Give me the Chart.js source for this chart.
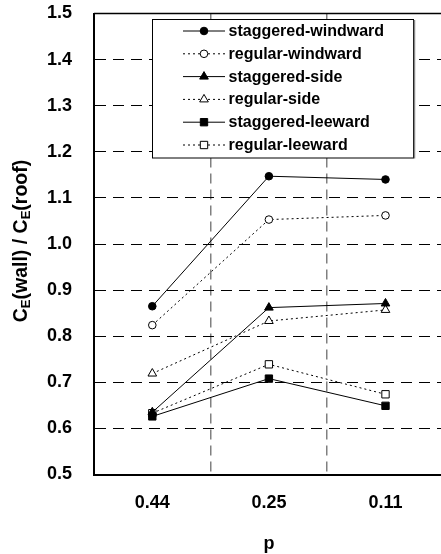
<!DOCTYPE html>
<html><head><meta charset="utf-8">
<script src="https://cdn.jsdelivr.net/npm/chart.js@4/dist/chart.umd.min.js"></script>
<style>html,body{margin:0;padding:0;overflow:hidden;background:#fff}#wrap{width:450px;height:554px}</style>
</head><body><div id="wrap"><canvas id="c" width="450" height="554"></canvas></div>
<script>
// ---- data ----
const categories = ['0.44', '0.25', '0.11'];
const seriesNames = ['staggered-windward','regular-windward','staggered-side','regular-side','staggered-leeward','regular-leeward'];
const staggeredWindward = [0.865, 1.147, 1.140];
const regularWindward   = [0.824, 1.053, 1.062];
const staggeredSide     = [0.635, 0.862, 0.871];
const regularSide       = [0.719, 0.833, 0.857];
const staggeredLeeward  = [0.626, 0.708, 0.649];
const regularLeeward    = [0.633, 0.739, 0.674];
const yMin = 0.5, yMax = 1.5, yStep = 0.1;
const xTitle = 'p';

const FONT = "'Liberation Sans', Arial, sans-serif";
const seriesValues = [staggeredWindward, regularWindward, staggeredSide, regularSide, staggeredLeeward, regularLeeward];
const styles = [
  {ps:'circle', r:3.8, fill:'#000', dash:[]},
  {ps:'circle', r:3.8, fill:'#fff', dash:[2,3]},
  {ps:'triangle', r:5, fill:'#000', dash:[]},
  {ps:'triangle', r:5, fill:'#fff', dash:[2,3]},
  {ps:'rect', r:5.2, fill:'#000', dash:[]},
  {ps:'rect', r:5.2, fill:'#fff', dash:[2,3]}
];

const datasets = seriesNames.map((n,i)=>({
  label:n, data:seriesValues[i],
  borderColor:'#000', borderWidth:1, borderDash:styles[i].dash,
  pointStyle:styles[i].ps, pointRadius:styles[i].r,
  pointBackgroundColor:styles[i].fill, pointBorderColor:'#000', pointBorderWidth:1,
  tension:0, fill:false
}));

const deco = {
  id:'deco',
  afterDraw(chart){
    const ctx = chart.ctx, a = chart.chartArea;
    ctx.save();
    // top frame
    ctx.strokeStyle='#000'; ctx.lineWidth=1.5; ctx.setLineDash([]);
    ctx.beginPath(); ctx.moveTo(a.left, a.top); ctx.lineTo(a.right, a.top); ctx.stroke();
    // legend box
    ctx.fillStyle='#fff'; ctx.fillRect(152.5,19.5,261,138.5);
    ctx.lineWidth=1; ctx.strokeStyle='#000';
    ctx.strokeRect(152.5,19.5,261,138.5);
    ctx.strokeStyle='#888'; ctx.lineWidth=1.5;
    ctx.beginPath(); ctx.moveTo(414.5,20); ctx.lineTo(414.5,158.5); ctx.stroke();
    ctx.font = 'bold 16px ' + FONT; ctx.textBaseline='middle'; ctx.textAlign='left';
    seriesNames.forEach((n,i)=>{
      const y = 31 + i*22.8;
      ctx.setLineDash(styles[i].dash); ctx.lineWidth=1; ctx.strokeStyle='#000';
      ctx.beginPath(); ctx.moveTo(183,y); ctx.lineTo(225,y); ctx.stroke();
      ctx.setLineDash([]);
      ctx.fillStyle=styles[i].fill; ctx.strokeStyle='#000'; ctx.lineWidth=1;
      Chart.helpers.drawPoint(ctx,{pointStyle:styles[i].ps, radius:styles[i].r, rotation:0, borderWidth:1},204,y);
      ctx.fillStyle='#000';
      ctx.fillText(n,228.5,y+0.5);
    });
    // x title
    ctx.font='bold 18px '+FONT; ctx.textAlign='center'; ctx.textBaseline='alphabetic';
    ctx.fillText(xTitle,(a.left+a.right)/2,549);
    // y title with subscripts
    const parts=[['C',19.5,0],['E',13,4],['(wall) / C',19.5,0],['E',13,4],['(roof)',19.5,0]];
    let w=0; parts.forEach(p=>{ctx.font='bold '+p[1]+'px '+FONT; w+=ctx.measureText(p[0]).width;});
    ctx.translate(22,241); ctx.rotate(-Math.PI/2);
    ctx.textAlign='left'; ctx.textBaseline='middle';
    let x=-w/2;
    parts.forEach(p=>{ctx.font='bold '+p[1]+'px '+FONT; ctx.fillText(p[0],x,p[2]); x+=ctx.measureText(p[0]).width;});
    ctx.restore();
  }
};

new Chart(document.getElementById('c'),{
  type:'line',
  data:{labels:categories, datasets},
  options:{
    responsive:false, animation:false,
    layout:{padding:{top:13.5,right:3,left:0,bottom:0}},
    plugins:{legend:{display:false},tooltip:{enabled:false}},
    scales:{
      x:{type:'category', offset:true,
        grid:{offset:true, drawTicks:false, lineWidth:1.5,
          color:c=>(c.index===0||c.index===categories.length)?'rgba(0,0,0,0)':'#808080'},
        border:{color:'#000', width:2, dash:[10,6]},
        ticks:{color:'#000', font:{family:FONT,size:18,weight:'bold'}, padding:18},
        afterFit:s=>{s.height=79.5; s.paddingLeft=0; s.paddingRight=0;}
      },
      y:{min:yMin, max:yMax,
        ticks:{stepSize:yStep, color:'#000', font:{family:FONT,size:18,weight:'bold'}, padding:22,
          callback:v=>Number(v).toFixed(1)},
        grid:{drawTicks:false, lineWidth:1,
          color:c=>(c.index===0||c.index===10)?'rgba(0,0,0,0)':'#000'},
        border:{color:'#000', width:2, dash:[11,7]},
        afterFit:s=>{s.width=94; s.paddingTop=0; s.paddingBottom=0;}
      }
    }
  },
  plugins:[deco]
});
</script></body></html>
